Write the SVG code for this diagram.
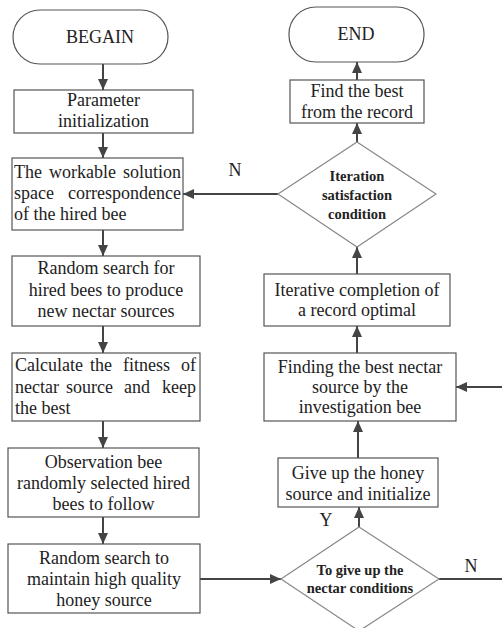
<svg xmlns="http://www.w3.org/2000/svg" width="502" height="628" viewBox="0 0 502 628">
<style>
.box{fill:#fff;stroke:#555;stroke-width:1.2}
.dia{fill:#fff;stroke:#888;stroke-width:1.2}
.t{font-family:"Liberation Serif","Times New Roman",serif;font-size:18px;fill:#222}
.c{text-anchor:middle}
.e{text-anchor:end}
.b{font-weight:bold;font-size:14.5px}
.b2{font-weight:bold;font-size:14.5px}
.ln{fill:none;stroke:#444;stroke-width:2}
</style>
<defs>
<marker id="ah" markerUnits="userSpaceOnUse" markerWidth="11" markerHeight="10" refX="11" refY="5" orient="auto">
<path d="M0,0 L11,5 L0,10 z" fill="#444"/>
</marker>
</defs>
<g id="connectors">
<line class="ln" x1="103" y1="64" x2="103" y2="90" marker-end="url(#ah)"/>
<line class="ln" x1="103" y1="133" x2="103" y2="158" marker-end="url(#ah)"/>
<line class="ln" x1="103" y1="230" x2="103" y2="256" marker-end="url(#ah)"/>
<line class="ln" x1="103" y1="326" x2="103" y2="353" marker-end="url(#ah)"/>
<line class="ln" x1="103" y1="421" x2="103" y2="448" marker-end="url(#ah)"/>
<line class="ln" x1="103" y1="517" x2="103" y2="544" marker-end="url(#ah)"/>
<line class="ln" x1="200" y1="579" x2="281" y2="579" marker-end="url(#ah)"/>
<line class="ln" x1="439" y1="579" x2="502" y2="579"/>
<line class="ln" x1="359" y1="527" x2="359" y2="507" marker-end="url(#ah)"/>
<line class="ln" x1="358" y1="458" x2="358" y2="421" marker-end="url(#ah)"/>
<line class="ln" x1="502" y1="387" x2="456" y2="387" marker-end="url(#ah)"/>
<line class="ln" x1="357" y1="353" x2="357" y2="326" marker-end="url(#ah)"/>
<line class="ln" x1="357" y1="274" x2="357" y2="247" marker-end="url(#ah)"/>
<line class="ln" x1="278" y1="194" x2="183" y2="194" marker-end="url(#ah)"/>
<line class="ln" x1="357" y1="142" x2="357" y2="123" marker-end="url(#ah)"/>
<line class="ln" x1="357" y1="80" x2="357" y2="62" marker-end="url(#ah)"/>
<text class="t c" x="235" y="176">N</text>
<text class="t c" x="326" y="526">Y</text>
<text class="t c" x="471" y="572">N</text>
</g>
<g id="begin">
<rect class="box" x="13" y="10" width="155" height="54" rx="27" ry="27"/>
<text class="t c" x="100" y="43">BEGAIN</text>
</g>
<g id="param">
<rect class="box" x="14" y="90" width="179" height="43"/>
<text class="t c" x="103.5" y="106">Parameter</text>
<text class="t c" x="103.5" y="127">initialization</text>
</g>
<g id="space">
<rect class="box" x="12" y="158" width="171" height="72"/>
<text class="t" x="14" y="178">The</text>
<text class="t" x="49" y="178">workable</text>
<text class="t e" x="181" y="178">solution</text>
<text class="t" x="14" y="199">space</text>
<text class="t e" x="181" y="199">correspondence</text>
<text class="t" x="14" y="220">of the hired bee</text>
</g>
<g id="search">
<rect class="box" x="12" y="256" width="188" height="70"/>
<text class="t c" x="106" y="274">Random search for</text>
<text class="t c" x="106" y="296">hired bees to produce</text>
<text class="t c" x="106" y="317">new nectar sources</text>
</g>
<g id="fitness">
<rect class="box" x="12" y="353" width="188" height="68"/>
<text class="t" x="15" y="371">Calculate</text>
<text class="t" x="90" y="371">the</text>
<text class="t" x="123" y="371">fitness</text>
<text class="t e" x="196" y="371">of</text>
<text class="t" x="15" y="393">nectar</text>
<text class="t" x="66" y="393">source</text>
<text class="t" x="124" y="393">and</text>
<text class="t e" x="196" y="393">keep</text>
<text class="t" x="15" y="414">the best</text>
</g>
<g id="observe">
<rect class="box" x="8" y="448" width="191" height="69"/>
<text class="t c" x="103.5" y="468">Observation bee</text>
<text class="t c" x="103.5" y="489">randomly selected hired</text>
<text class="t c" x="103.5" y="510">bees to follow</text>
</g>
<g id="maintain">
<rect class="box" x="8" y="544" width="192" height="69"/>
<text class="t c" x="104" y="564">Random search to</text>
<text class="t c" x="104" y="585">maintain high quality</text>
<text class="t c" x="104" y="606">honey source</text>
</g>
<g id="giveupcond">
<polygon class="dia" points="359,527 439,579 359,631 281,579"/>
<text class="t c b2" x="360" y="575">To give up the</text>
<text class="t c b2" x="360" y="593">nectar conditions</text>
</g>
<g id="giveup">
<rect class="box" x="278" y="458" width="160" height="49"/>
<text class="t c" x="358" y="479">Give up the honey</text>
<text class="t c" x="358" y="500">source and initialize</text>
</g>
<g id="finding">
<rect class="box" x="264" y="353" width="192" height="68"/>
<text class="t c" x="360" y="373">Finding the best nectar</text>
<text class="t c" x="360" y="393">source by the</text>
<text class="t c" x="360" y="413">investigation bee</text>
</g>
<g id="iterative">
<rect class="box" x="264" y="274" width="186" height="52"/>
<text class="t c" x="357" y="296">Iterative completion of</text>
<text class="t c" x="357" y="316">a record optimal</text>
</g>
<g id="itercond">
<polygon class="dia" points="357,142 436,194 357,247 278,194"/>
<text class="t c b" x="357" y="181">Iteration</text>
<text class="t c b" x="357" y="200">satisfaction</text>
<text class="t c b" x="357" y="219">condition</text>
</g>
<g id="findbest">
<rect class="box" x="290" y="80" width="134" height="43"/>
<text class="t c" x="357" y="97">Find the best</text>
<text class="t c" x="357" y="118">from the record</text>
</g>
<g id="end">
<rect class="box" x="289" y="7" width="135" height="55" rx="27" ry="27"/>
<text class="t c" x="356" y="40">END</text>
</g>
</svg>
